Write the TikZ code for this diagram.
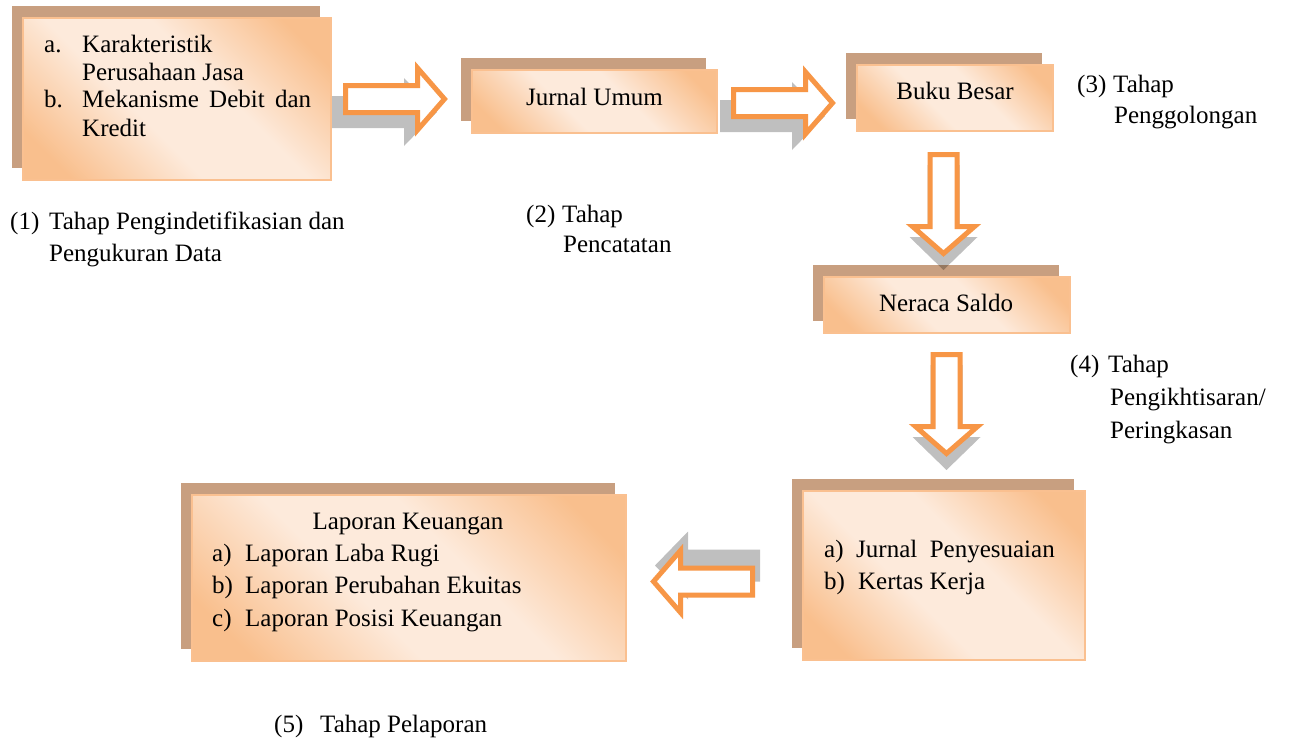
\documentclass[tikz,border=0pt]{standalone}
\usepackage{fontspec}
\setmainfont{Liberation Serif}
\usetikzlibrary{calc,shadows}
\definecolor{boxback}{HTML}{C89F80}
\definecolor{boxline}{HTML}{FAC090}
\definecolor{peachdark}{HTML}{F9BF8D}
\definecolor{peachlight}{HTML}{FDEADB}
\definecolor{arroworange}{HTML}{F79646}
\pgfdeclarehorizontalshading{peach}{100bp}{color(0bp)=(peachdark); color(22bp)=(peachdark); color(42bp)=(peachlight); color(58bp)=(peachlight); color(78bp)=(peachdark); color(100bp)=(peachdark)}
% panah blok: #1 pangkal, #2 sudut, #3 geser bayangan
\newcommand\blockarrow[3]{%
  \begin{scope}[shift={#1}]
    \fill[black,fill opacity=.25,shift={#3},rotate=#2]
      (-2.5,-16)--(69.5,-16)--(69.5,-34)--(102.5,0)--(69.5,34)--(69.5,16)--(-2.5,16)--cycle;
    \draw[arroworange,fill=white,line width=5pt,line join=miter,rotate=#2]
      (0,-13.5)--(72,-13.5)--(72,-31)--(99,0)--(72,31)--(72,13.5)--(0,13.5)--cycle;
  \end{scope}}
\begin{document}
\begin{tikzpicture}[x=1pt,y=-1pt,
  stage/.style={draw=boxline,line width=2pt,shading=peach,shading angle=45,inner sep=0pt,
    general shadow={fill=boxback,shadow xshift=-11.5pt,shadow yshift=12pt}},
  txt/.style={font=\fontsize{25}{30}\selectfont,inner sep=0pt,anchor=base west},
  mid/.style={txt,anchor=base}]
\fill[white](0,0)rectangle(1293,742);
\useasboundingbox(0,0)rectangle(1293,742);
% kotak tahap
\node[stage,minimum width=308pt,minimum height=162pt](ident)at(177,99){};
\node[stage,minimum width=245pt,minimum height=63pt](jurnal)at(594.5,101.5){};
\node[stage,minimum width=196pt,minimum height=66pt](buku)at(955,98){};
\node[stage,minimum width=246pt,minimum height=56pt](neraca)at(947,305){};
\node[stage,minimum width=282pt,minimum height=169pt](sesuai)at(944,575.5){};
\node[stage,minimum width=434pt,minimum height=166pt](laporan)at(409,578){};
% isi kotak
\node[txt](ia)at(44,52){a.};
\node[txt](ia1)at(82,52){Karakteristik};
\node[txt](ia2)at(82,80){Perusahaan Jasa};
\node[txt](ib)at(44,107){b.};
\node[txt](ib1)at(82,107){\makebox[229pt][s]{Mekanisme Debit dan}};
\node[txt](ib2)at(82,136){Kredit};
\node[mid](tjurnal)at(594.5,105){Jurnal Umum};
\node[mid](tbuku)at(955,99){Buku Besar};
\node[mid](tneraca)at(946,311){Neraca Saldo};
\node[txt](sa)at(824,557){\makebox[32pt][l]{a)}Jurnal\ \ Penyesuaian};
\node[txt](sb)at(824,589){\makebox[34pt][l]{b)}Kertas Kerja};
\node[mid](tlaporan)at(408,529){Laporan Keuangan};
\foreach \t/\l/\y in {a/Laporan Laba Rugi/561,b/Laporan Perubahan Ekuitas/593,c/Laporan Posisi Keuangan/626}
\node[txt](lap\t)at(212,\y){\makebox[33pt][l]{\t)}\l};
% keterangan tahap
\node[txt](tahap1)at(10,229){\makebox[39pt][l]{(1)}Tahap Pengindetifikasian dan};
\node[txt](tahap1b)at(49,261){Pengukuran Data};
\node[txt](tahap2)at(526,222){\makebox[36pt][l]{(2)}Tahap};
\node[txt](tahap2b)at(563,252){Pencatatan};
\node[txt](tahap3)at(1077,92){\makebox[36pt][l]{(3)}Tahap};
\node[txt](tahap3b)at(1114,123){Penggolongan};
\node[txt](tahap4)at(1070,372){\makebox[38pt][l]{(4)}Tahap};
\node[txt](tahap4b)at(1110,405){Pengikhtisaran/};
\node[txt](tahap4c)at(1110,438){Peringkasan};
\node[txt](tahap5)at(274,732){\makebox[46pt][l]{(5)}Tahap Pelaporan};
% panah
\coordinate(a1)at($(ident.east)+(13.5,0)$);
\coordinate(a2)at($(jurnal.east)+(15.5,1.5)$);
\coordinate(a3)at($(buku.south)+(-11.5,22.5)$);
\coordinate(a4)at($(neraca.south)+(-0.5,20.5)$);
\coordinate(a5)at($(sesuai.west)+(-49.5,6)$);
\blockarrow{(a1)}{0}{(-11,13)}
\blockarrow{(a2)}{0}{(-11,13)}
\blockarrow{(a3)}{-90}{(0,13)}
\blockarrow{(a4)}{-90}{(0,13)}
\blockarrow{(a5)}{180}{(5,-16)}
\end{tikzpicture}
\end{document}
